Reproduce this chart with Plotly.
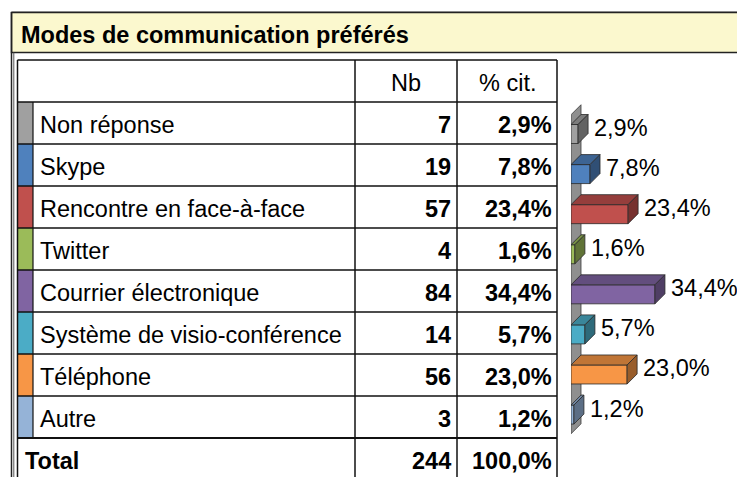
import plotly.graph_objects as go

# ---- data ----
title = "Modes de communication préférés"
header = ["Nb", "% cit."]
categories = ["Non réponse", "Skype", "Rencontre en face-à-face", "Twitter",
              "Courrier électronique", "Système de visio-conférence",
              "Téléphone", "Autre"]
counts = [7, 19, 57, 4, 84, 14, 56, 3]
percents = [2.9, 7.8, 23.4, 1.6, 34.4, 5.7, 23.0, 1.2]
total_label = "Total"
total_count = 244
total_percent = 100.0
colors = ["#A0A0A0", "#4F81BD", "#C0504D", "#9BBB59",
          "#8064A2", "#4BACC6", "#F79646", "#95B3D7"]

FONT = "Liberation Sans, Arial, sans-serif"
FS = 23.5
TXT_DY = 1.5   # small downward nudge for text baselines


def fmt_pct(p):
    return f"{p:.1f}%".replace(".", ",")


def shade(hex_color, k):
    h = hex_color.lstrip("#")
    r, g, b = (int(h[i:i + 2], 16) for i in (0, 2, 4))
    return "#{:02X}{:02X}{:02X}".format(int(r * k), int(g * k), int(b * k))


# ---- table geometry (pixel axes) ----
W, H = 737, 477
FRAME_L = 11.5
TBL_L, STRIP_R, COL1, COL2, TBL_R = 17.5, 33, 355, 457, 557
HEAD_T, ROW_T, ROW_H = 60, 102, 42
n = len(categories)

shapes = []
annotations = []

# title band
shapes.append(dict(type="rect", xref="x", yref="y", x0=FRAME_L, x1=W + 5, y0=12.5, y1=52.5,
                   fillcolor="#FBF8CE", line=dict(color="#222222", width=1.5)))
shapes.append(dict(type="line", xref="x", yref="y", x0=FRAME_L, x1=W + 5, y0=11.5, y1=11.5,
                   line=dict(color="#888888", width=1)))
shapes.append(dict(type="line", xref="x", yref="y", x0=FRAME_L, x1=FRAME_L, y0=12, y1=H + 5,
                   line=dict(color="#222222", width=1.5)))
shapes.append(dict(type="line", xref="x", yref="y", x0=13.8, x1=13.8, y0=52.5, y1=H + 5,
                   line=dict(color="#555555", width=1)))
annotations.append(dict(xref="x", yref="y", x=19, y=33 + TXT_DY, text=f"<b>{title}</b>",
                        showarrow=False, xanchor="left", yanchor="middle",
                        font=dict(family=FONT, size=FS, color="black")))

# colour strips
for i, c in enumerate(colors):
    y0 = ROW_T + i * ROW_H
    shapes.append(dict(type="rect", xref="x", yref="y", x0=TBL_L, x1=STRIP_R, y0=y0, y1=y0 + ROW_H,
                       fillcolor=c, line=dict(width=0)))

# table lines
LC = "#111111"
shapes.append(dict(type="line", xref="x", yref="y", x0=STRIP_R, x1=STRIP_R,
                   y0=ROW_T, y1=ROW_T + n * ROW_H, line=dict(color=LC, width=1.2)))
for x in (TBL_L, COL1, COL2, TBL_R):
    shapes.append(dict(type="line", xref="x", yref="y", x0=x, x1=x, y0=HEAD_T, y1=H + 5,
                       line=dict(color=LC, width=1.5)))
shapes.append(dict(type="line", xref="x", yref="y", x0=TBL_L, x1=TBL_R, y0=HEAD_T, y1=HEAD_T,
                   line=dict(color=LC, width=1.5)))
for k in range(n + 1):
    y = ROW_T + k * ROW_H
    shapes.append(dict(type="line", xref="x", yref="y", x0=TBL_L, x1=TBL_R, y0=y, y1=y,
                       line=dict(color=LC, width=2.2 if k == n else 1.3)))

# header text
annotations.append(dict(xref="x", yref="y", x=(COL1 + COL2) / 2, y=(HEAD_T + ROW_T) / 2 + TXT_DY,
                        text=header[0], showarrow=False, xanchor="center", yanchor="middle",
                        font=dict(family=FONT, size=FS, color="black")))
annotations.append(dict(xref="x", yref="y", x=(COL2 + TBL_R) / 2, y=(HEAD_T + ROW_T) / 2 + TXT_DY,
                        text=header[1], showarrow=False, xanchor="center", yanchor="middle",
                        font=dict(family=FONT, size=FS, color="black")))

# body rows
for i, (cat, cnt, pct) in enumerate(zip(categories, counts, percents)):
    yc = ROW_T + i * ROW_H + ROW_H / 2 + TXT_DY
    annotations.append(dict(xref="x", yref="y", x=38, y=yc, text=cat, showarrow=False,
                            xanchor="left", yanchor="middle",
                            font=dict(family=FONT, size=FS, color="black")))
    annotations.append(dict(xref="x", yref="y", x=COL2 - 4, y=yc, text=f"<b>{cnt}</b>",
                            showarrow=False, xanchor="right", yanchor="middle",
                            font=dict(family=FONT, size=FS, color="black")))
    annotations.append(dict(xref="x", yref="y", x=TBL_R - 3, y=yc, text=f"<b>{fmt_pct(pct)}</b>",
                            showarrow=False, xanchor="right", yanchor="middle",
                            font=dict(family=FONT, size=FS, color="black")))

# total row
yt = ROW_T + n * ROW_H + ROW_H / 2 + TXT_DY
annotations.append(dict(xref="x", yref="y", x=23, y=yt, text=f"<b>{total_label}</b>",
                        showarrow=False, xanchor="left", yanchor="middle",
                        font=dict(family=FONT, size=FS, color="black")))
annotations.append(dict(xref="x", yref="y", x=COL2 - 4, y=yt, text=f"<b>{total_count}</b>",
                        showarrow=False, xanchor="right", yanchor="middle",
                        font=dict(family=FONT, size=FS, color="black")))
annotations.append(dict(xref="x", yref="y", x=TBL_R - 3, y=yt,
                        text=f"<b>{fmt_pct(total_percent)}</b>",
                        showarrow=False, xanchor="right", yanchor="middle",
                        font=dict(family=FONT, size=FS, color="black")))

# ---- 3D bar chart (percent axis x2, category axis y2) ----
CH_X0 = 571            # pixel where 0 % sits
PX_PER_PCT = 2.44
ROW0_Y, BAR_STEP = 134, 40.08
x2_max = (W - CH_X0) / PX_PER_PCT
y2_top = (0 - ROW0_Y) / BAR_STEP
y2_bot = (H - ROW0_Y) / BAR_STEP
DX = 10 / PX_PER_PCT   # depth offset in percent units
DY = 10 / BAR_STEP     # depth offset in category units
HALF = 0.237           # half bar thickness

fig = go.Figure()
# invisible trace anchoring the pixel axes
fig.add_trace(go.Scatter(x=[0, W], y=[0, H], mode="markers", marker=dict(opacity=0),
                         hoverinfo="skip", showlegend=False, xaxis="x", yaxis="y"))


def poly(xs, ys, fill, edge="#2A2A2A"):
    fig.add_trace(go.Scatter(x=xs + [xs[0]], y=ys + [ys[0]], mode="lines", fill="toself",
                             fillcolor=fill, line=dict(color=edge, width=0.8),
                             hoverinfo="skip", showlegend=False, xaxis="x2", yaxis="y2"))


# back wall
w_top, w_bot = -0.48, n - 0.52
poly([0, DX, DX, 0], [w_top, w_top - DY, w_bot - DY, w_bot], "#8F8F8F", "#3A3A3A")

for i, (p, c) in enumerate(zip(percents, colors)):
    t, b = i - HALF, i + HALF
    poly([0, p, p, 0], [t, t, b, b], c)                                   # front
    poly([0, p, p + DX, DX], [t, t, t - DY, t - DY], shade(c, 0.78))       # top
    poly([p, p, p + DX, p + DX], [t, b, b - DY, t - DY], shade(c, 0.62))   # side
    annotations.append(dict(xref="x2", yref="y2", x=p + DX + 4 / PX_PER_PCT, y=i - 0.15,
                            text=fmt_pct(p), showarrow=False, xanchor="left",
                            yanchor="middle",
                            font=dict(family=FONT, size=FS, color="black")))

fig.update_layout(
    width=W, height=H, margin=dict(l=0, r=0, t=0, b=0),
    paper_bgcolor="white", plot_bgcolor="rgba(0,0,0,0)",
    xaxis=dict(domain=[0, 1], range=[0, W], visible=False, fixedrange=True),
    yaxis=dict(domain=[0, 1], range=[H, 0], visible=False, fixedrange=True),
    xaxis2=dict(domain=[CH_X0 / W, 1], range=[0, x2_max], visible=False, fixedrange=True,
                anchor="y2"),
    yaxis2=dict(domain=[0, 1], range=[y2_bot, y2_top], visible=False, fixedrange=True,
                anchor="x2", overlaying="y"),
    shapes=shapes, annotations=annotations,
)

fig.write_html("out.html")
